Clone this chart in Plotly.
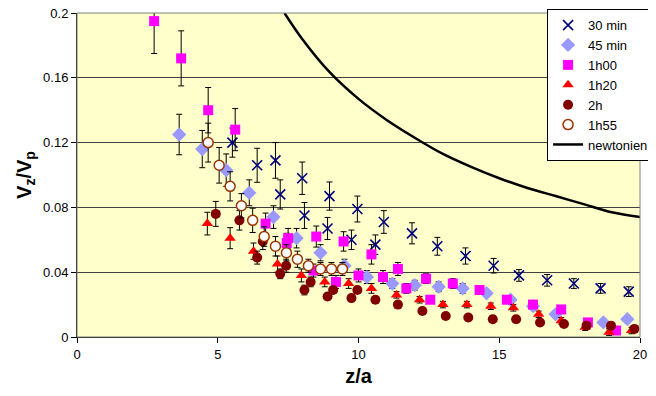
import plotly.graph_objects as go

# ---- data ----
x_30 = [5.52, 6.4, 7.05, 7.22, 8.0, 8.08, 8.97, 8.9, 9.96, 9.75, 10.9, 10.6, 11.9, 12.8, 13.8, 14.8, 15.7, 16.7, 17.65, 18.6, 19.6]
y_30 = [0.120, 0.106, 0.109, 0.088, 0.098, 0.075, 0.087, 0.067, 0.079, 0.060, 0.071, 0.057, 0.064, 0.056, 0.050, 0.044, 0.038, 0.035, 0.033, 0.030, 0.028]
e_30 = [0.009, 0.0105, 0.011, 0.009, 0.010, 0.008, 0.0087, 0.0068, 0.008, 0.006, 0.007, 0.006, 0.0065, 0.0055, 0.005, 0.0045, 0.0036, 0.0036, 0.003, 0.003, 0.003]

x_45 = [3.63, 4.45, 5.3, 6.12, 6.98, 7.8, 8.65, 9.5, 10.3, 11.2, 12.0, 12.85, 13.7, 14.55, 15.4, 16.2, 17.0, 18.7, 19.55]
y_45 = [0.125, 0.116, 0.103, 0.089, 0.074, 0.061, 0.052, 0.044, 0.037, 0.033, 0.032, 0.031, 0.030, 0.027, 0.023, 0.019, 0.014, 0.009, 0.011]
e_45 = [0.0125, 0.0115, 0.010, 0.008, 0.007, 0.006, 0.005, 0.004, 0.004, 0.003, 0.003, 0.003, 0.003, 0.002, 0.002, 0.002, 0.002, 0.002, 0.002]

x_1h00 = [2.74, 3.7, 4.66, 5.62, 6.7, 7.5, 7.45, 8.4, 8.5, 9.2, 9.47, 10.0, 10.46, 10.87, 11.4, 11.7, 12.4, 12.55, 13.35, 14.3, 15.27, 16.2, 17.2, 18.15, 19.15]
y_1h00 = [0.195, 0.172, 0.140, 0.128, 0.070, 0.061, 0.058, 0.041, 0.062, 0.034, 0.059, 0.038, 0.051, 0.037, 0.042, 0.030, 0.036, 0.023, 0.033, 0.029, 0.023, 0.020, 0.017, 0.009, 0.004]
e_1h00 = [0.020, 0.017, 0.014, 0.013, 0.0065, 0.006, 0.006, 0.004, 0.0065, 0.004, 0.006, 0.004, 0.006, 0.004, 0.004, 0.003, 0.003, 0.002, 0.003, 0.002, 0.002, 0.002, 0.002, 0.002, 0.002]

x_1h20 = [4.63, 5.44, 6.27, 7.12, 7.97, 8.8, 9.65, 10.46, 11.35, 12.17, 13.0, 13.85, 14.7, 15.5, 16.4, 17.2, 18.05, 18.9, 19.7]
y_1h20 = [0.070, 0.061, 0.053, 0.045, 0.038, 0.034, 0.033, 0.030, 0.026, 0.023, 0.020, 0.020, 0.019, 0.018, 0.014, 0.010, 0.006, 0.003, 0.004]
e_1h20 = [0.007, 0.0065, 0.005, 0.005, 0.004, 0.003, 0.003, 0.003, 0.002, 0.002, 0.002, 0.002, 0.002, 0.002, 0.002, 0.002, 0.002, 0.002, 0.002]

x_2h = [4.93, 5.77, 6.6, 6.4, 7.43, 7.22, 8.3, 8.08, 9.1, 8.9, 9.96, 9.75, 10.6, 11.4, 12.27, 13.1, 13.9, 14.77, 15.6, 16.45, 17.3, 18.1, 18.97, 19.8]
y_2h = [0.076, 0.072, 0.059, 0.049, 0.044, 0.039, 0.034, 0.029, 0.029, 0.025, 0.029, 0.024, 0.023, 0.020, 0.016, 0.013, 0.012, 0.011, 0.011, 0.009, 0.008, 0.007, 0.007, 0.005]
e_2h = [0.0077, 0.006, 0.005, 0.004, 0.004, 0.003, 0.003, 0.003, 0.002, 0.002, 0.002, 0.002, 0.002, 0.002, 0.002, 0.002, 0.002, 0.002, 0.002, 0.002, 0.002, 0.002, 0.002, 0.002]

x_1h55 = [4.66, 5.05, 5.44, 5.84, 6.24, 6.65, 7.05, 7.44, 7.83, 8.22, 8.65, 9.04, 9.43]
y_1h55 = [0.120, 0.106, 0.093, 0.081, 0.072, 0.062, 0.056, 0.052, 0.048, 0.044, 0.042, 0.042, 0.042]
e_1h55 = [0.012, 0.011, 0.009, 0.0075, 0.0075, 0.006, 0.006, 0.005, 0.005, 0.004, 0.004, 0.004, 0.004]

x_newt = [7.37, 8, 9, 10, 11, 12, 13, 14, 15, 16, 17, 18, 19, 20]
y_newt = [0.200, 0.184, 0.163, 0.147, 0.134, 0.123, 0.113, 0.105, 0.098, 0.092, 0.087, 0.082, 0.077, 0.074]

y_ticks = [0, 0.04, 0.08, 0.12, 0.16, 0.2]
y_tick_labels = ["0", "0.04", "0.08", "0.12", "0.16", "0.2"]
x_ticks = [0, 5, 10, 15, 20]

FONT = "Arial, 'Liberation Sans', sans-serif"

def err(e):
    return dict(type="data", array=e, visible=True, color="#000000", thickness=1, width=3)

fig = go.Figure()
fig.add_trace(go.Scatter(x=x_30, y=y_30, mode="markers", name="30 min", error_y=err(e_30),
                         marker=dict(symbol="x-thin-open", size=10, color="#000080",
                                     line=dict(color="#000080", width=1.6))))
fig.add_trace(go.Scatter(x=x_45, y=y_45, mode="markers", name="45 min", error_y=err(e_45),
                         marker=dict(symbol="diamond", size=11, color="#9999FF")))
fig.add_trace(go.Scatter(x=x_1h00, y=y_1h00, mode="markers", name="1h00", error_y=err(e_1h00),
                         marker=dict(symbol="square", size=10, color="#FF00FF")))
fig.add_trace(go.Scatter(x=x_1h20, y=y_1h20, mode="markers", name="1h20", error_y=err(e_1h20),
                         marker=dict(symbol="triangle-up", size=10, color="#FF0000")))
fig.add_trace(go.Scatter(x=x_2h, y=y_2h, mode="markers", name="2h", error_y=err(e_2h),
                         marker=dict(symbol="circle", size=10, color="#800000")))
fig.add_trace(go.Scatter(x=x_1h55, y=y_1h55, mode="markers", name="1h55", error_y=err(e_1h55),
                         marker=dict(symbol="circle", size=10, color="#FFFFFF",
                                     line=dict(color="#993300", width=1.5))))
fig.add_trace(go.Scatter(x=x_newt, y=y_newt, mode="lines", name="newtonien",
                         line=dict(color="#000000", width=2.5, shape="spline")))

# page body has an 8px default margin, so the figure is sized/offset to compensate
fig.update_layout(
    width=648, height=388,
    margin=dict(l=69, r=16, t=5, b=59, autoexpand=False),
    paper_bgcolor="#FFFFFF",
    plot_bgcolor="#FFFFCC",
    font=dict(family=FONT, size=13, color="#000000"),
    showlegend=True,
    legend=dict(x=1.025, y=1.012, xanchor="right", yanchor="top",
                bgcolor="#FFFFFF", bordercolor="#000000", borderwidth=1,
                font=dict(family=FONT, size=13, color="#000000"),
                itemwidth=30, tracegroupgap=0),
    xaxis=dict(range=[0, 20], tickvals=x_ticks, ticks="outside", ticklen=5,
               tickcolor="#000000", showline=True, linecolor="#000000", linewidth=1,
               showgrid=False, zeroline=False, mirror=False, automargin=False,
               ticklabeloverflow="allow",
               tickfont=dict(family=FONT, size=13, color="#000000"),
               title=dict(text="<b>z/a</b>", font=dict(family=FONT, size=20, color="#000000"),
                          standoff=8)),
    yaxis=dict(range=[0, 0.2], tickvals=y_ticks, ticktext=y_tick_labels, ticks="outside",
               ticklen=5, tickcolor="#000000", showline=True, linecolor="#000000",
               linewidth=1, showgrid=True, gridcolor="#404040", gridwidth=1,
               zeroline=False, automargin=False, ticklabeloverflow="allow",
               tickfont=dict(family=FONT, size=13, color="#000000"),
               title=dict(text="<b>V<sub>z</sub>/V<sub>p</sub></b>",
                          font=dict(family=FONT, size=20, color="#000000"), standoff=6)),
)
fig.add_shape(type="rect", xref="paper", yref="paper", x0=0, y0=0, x1=1, y1=1,
              line=dict(color="#808080", width=1), layer="above")

fig.write_html("out.html")
